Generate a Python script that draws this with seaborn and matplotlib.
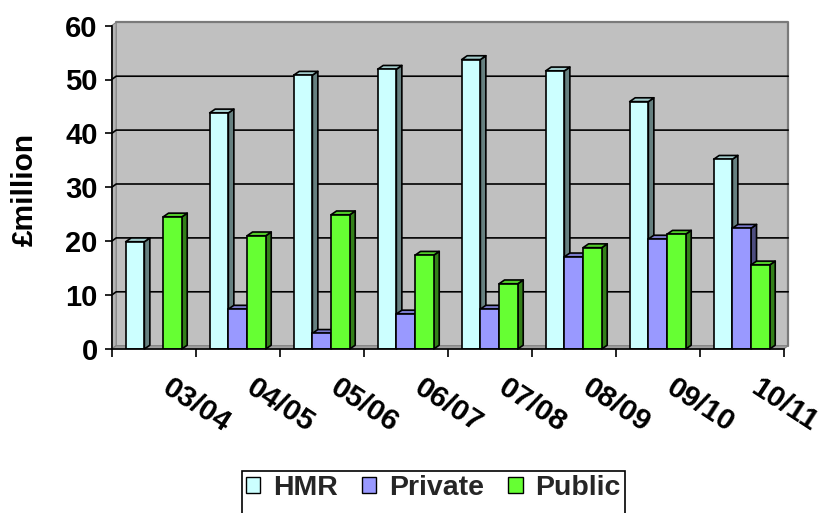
import numpy as np
import pandas as pd
import seaborn as sns
import matplotlib.pyplot as plt
import matplotlib.colors as mcolors
import matplotlib.transforms as mtransforms
from matplotlib.patches import Polygon, Rectangle, Patch

# Funding by source, £ million
years = ["03/04", "04/05", "05/06", "06/07", "07/08", "08/09", "09/10", "10/11"]
hmr = [19.9, 43.8, 50.8, 51.9, 53.7, 51.6, 45.9, 35.2]
private = [0.0, 7.4, 2.9, 6.5, 7.4, 17.1, 20.4, 22.4]
public = [24.5, 21.0, 24.9, 17.4, 12.1, 18.8, 21.3, 15.6]
series = ["HMR", "Private", "Public"]
y_ticks = [0, 10, 20, 30, 40, 50, 60]

front_colors = ["#ccffff", "#9999ff", "#66ff33"]
side_colors = ["#668080", "#4d4d80", "#338019"]
top_colors = ["#a3cccc", "#7a7acc", "#52cc29"]

df = pd.DataFrame({
    "year": years * 3,
    "series": np.repeat(series, len(years)),
    "value": hmr + private + public,
})

sns.set_theme(style="white")
plt.rcParams["font.family"] = ["Liberation Sans", "DejaVu Sans"]
plt.rcParams["font.weight"] = "bold"

W, H = 824, 513
fig = plt.figure(figsize=(W / 100, H / 100), dpi=100)
ax = fig.add_axes([111.7 / W, 1 - 349 / H, 672 / W, 323.4 / H])

sns.barplot(data=df, x="year", y="value", hue="series", hue_order=series,
            palette=front_colors, saturation=1, width=0.667,
            edgecolor="black", linewidth=1.2, legend=False, ax=ax)
bars = list(ax.patches)

ax.set_xlim(-0.5, len(years) - 0.5)
ax.set_ylim(0, 60)
ax.patch.set_visible(False)


def px_to_data(dx, dy):
    """Convert a pixel offset into a data-space offset."""
    x0, y0 = ax.transData.transform((0, 0))
    x1, y1 = ax.transData.inverted().transform((x0 + dx, y0 + dy))
    return x1, y1


# --- 3D box: back wall, side wall, floor, gridlines ---
wdx, wdy = px_to_data(4.5, 3.3)
x_lo, x_hi = -0.5, len(years) - 0.5
ax.add_patch(Rectangle((x_lo + wdx, wdy), x_hi - x_lo, 60, facecolor="#c0c0c0",
                       edgecolor="none", zorder=0.2, clip_on=False))
ax.add_patch(Polygon([(x_lo, 0), (x_lo, 60), (x_lo + wdx, 60 + wdy), (x_lo + wdx, wdy)],
                     closed=True, facecolor="#b4b4b4", edgecolor="#808080",
                     linewidth=0.8, zorder=0.3, clip_on=False))
ax.add_patch(Polygon([(x_lo, 0), (x_hi, 0), (x_hi + wdx, wdy), (x_lo + wdx, wdy)],
                     closed=True, facecolor="#a0a0a0", edgecolor="#808080",
                     linewidth=0.8, zorder=0.3, clip_on=False))
ax.plot([x_lo + wdx, x_hi + wdx, x_hi + wdx], [60 + wdy, 60 + wdy, wdy],
        color="#7a7a7a", linewidth=1.6, zorder=0.4, clip_on=False)
for v in y_ticks[1:-1]:
    ax.plot([x_lo, x_lo + wdx, x_hi + wdx], [v, v + wdy, v + wdy],
            color="black", linewidth=1.2, zorder=0.5, clip_on=False)

# --- 3D faces for each bar ---
bdx, bdy = px_to_data(5.5, 3.8)
for p in bars:
    x0, w, h = p.get_x(), p.get_width(), p.get_height()
    if h <= 0:
        p.set_visible(False)
        continue
    i = front_colors.index(mcolors.to_hex(p.get_facecolor()))
    z = 3 + (x0 + w / 2) * 0.01
    p.set_zorder(z + 0.002)
    ax.add_patch(Polygon([(x0 + w, 0), (x0 + w + bdx, bdy), (x0 + w + bdx, h + bdy), (x0 + w, h)],
                         closed=True, facecolor=side_colors[i], edgecolor="black",
                         linewidth=1.2, joinstyle="round", zorder=z, clip_on=False))
    ax.add_patch(Polygon([(x0, h), (x0 + bdx, h + bdy), (x0 + w + bdx, h + bdy), (x0 + w, h)],
                         closed=True, facecolor=top_colors[i], edgecolor="black",
                         linewidth=1.2, joinstyle="round", zorder=z, clip_on=False))

# --- axes, ticks and labels ---
for s in ["top", "right"]:
    ax.spines[s].set_visible(False)
for s in ["left", "bottom"]:
    ax.spines[s].set_color("black")
    ax.spines[s].set_linewidth(1.2)
    ax.spines[s].set_zorder(5)

ax.set_xlabel("")
ax.set_ylabel("")
ax.set_yticks(y_ticks)
ax.set_yticklabels([str(v) for v in y_ticks], fontsize=21, fontweight="bold", color="black")
ax.tick_params(axis="y", left=True, direction="out", length=5, width=1.2,
               color="black", pad=5)

ax.set_xticks(range(len(years)))
ax.set_xticklabels(years, rotation=-33, ha="left", va="top", rotation_mode="anchor",
                   fontsize=21.5, fontweight="bold", color="black")
ax.set_xticks(np.arange(-0.5, len(years)), minor=True)
ax.tick_params(axis="x", which="major", bottom=True, length=0, pad=17.5)
ax.tick_params(axis="x", which="minor", bottom=True, direction="out", length=6,
               width=1.2, color="black")
shift = mtransforms.ScaledTranslation(19 / 100, 0, fig.dpi_scale_trans)
for lbl in ax.get_xticklabels():
    lbl.set_transform(lbl.get_transform() + shift)

fig.text(25 / W, 1 - 189 / H, "£million", rotation=90, ha="center", va="center",
         fontsize=21.5, fontweight="bold", color="black")

handles = [Patch(facecolor=c, edgecolor="black", linewidth=1.0) for c in front_colors]
leg = fig.legend(handles, series, loc="upper center",
                 bbox_to_anchor=(433.5 / W, 1 - 471 / H), ncol=3, frameon=True,
                 prop={"weight": "bold", "size": 20.5}, handlelength=0.5,
                 handleheight=0.5, handletextpad=0.45, columnspacing=0.85,
                 borderpad=0.15, borderaxespad=0, fancybox=False, edgecolor="black")

# Legend frame runs off the bottom edge of the figure
fig.canvas.draw()
fb = leg.legendPatch.get_window_extent().transformed(fig.transFigure.inverted())
leg.legendPatch.set_visible(False)
fig.add_artist(Rectangle((fb.x0, -0.05), fb.width, fb.y1 + 0.05, transform=fig.transFigure,
                         facecolor="white", edgecolor="black", linewidth=1.2, zorder=0.5))

fig.savefig("out.png", dpi=100)
